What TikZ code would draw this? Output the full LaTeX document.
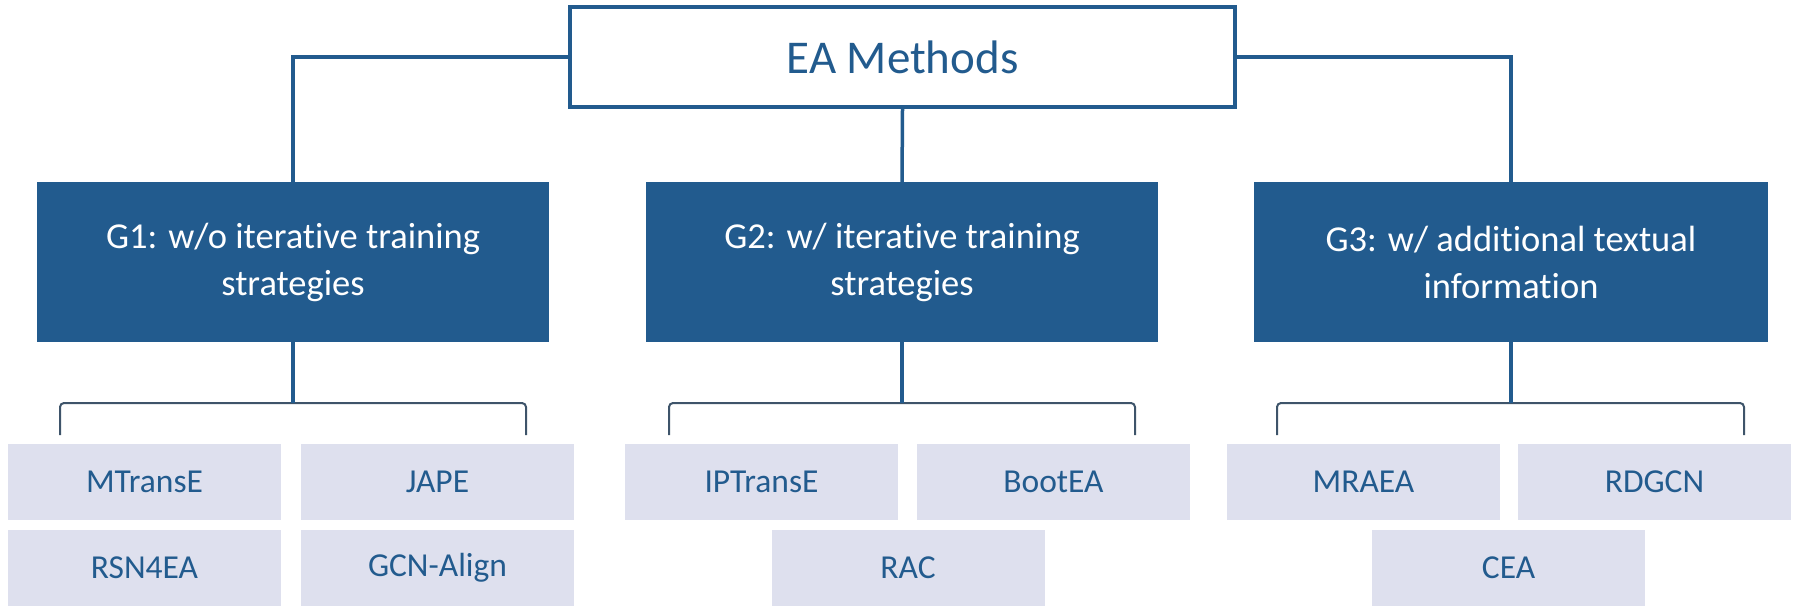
\documentclass[tikz,border=0pt]{standalone}
\usepackage{fontspec}
\setmainfont{Carlito}[Ligatures=NoCommon]
\definecolor{gblue}{RGB}{34,91,142}
\definecolor{lfill}{RGB}{222,224,238}
\definecolor{brk}{RGB}{62,84,106}
\begin{document}
\begin{tikzpicture}[x=1pt,y=-1pt,
  rootbox/.style={draw=gblue,line width=4pt,fill=white,minimum width=665pt,minimum height=100pt,inner sep=0pt,text=gblue,font=\fontsize{47}{56}\selectfont},
  groupbox/.style={fill=gblue,minimum width=512pt,minimum height=160pt,inner sep=0pt,text=white,align=center,font=\fontsize{36.5}{47}\selectfont},
  leafbox/.style={fill=lfill,minimum width=273pt,minimum height=76pt,inner sep=0pt,text=gblue,font=\fontsize{33.5}{40}\selectfont},
  stem/.style={draw=gblue,line width=3.5pt},
  bracket/.style={draw=brk,line width=2pt,rounded corners=4pt}]
\useasboundingbox (0,0) rectangle (1793,606);
% root and groups
\node[rootbox] (ea) at (902.5,57) {EA Methods};
\node[groupbox] (g1) at (293,262) {G1: w/o iterative training\\strategies};
\node[groupbox] (g2) at (902,262) {G2: w/ iterative training\\strategies};
\node[groupbox,minimum width=514pt] (g3) at (1511,262) {G3: w/ additional textual\\information};
% leaves
\node[leafbox] (mtranse) at (144.5,482) {MTransE};
\node[leafbox] (jape) at (437.5,482) {JAPE};
\node[leafbox] (rsn) at (144.5,568) {RSN4EA};
\node[leafbox] (gcn) at (437.5,568) {GCN-Align};
\node[leafbox] (iptranse) at (761.5,482) {IPTransE};
\node[leafbox] (bootea) at (1053.5,482) {BootEA};
\node[leafbox] (rac) at (908,568) {RAC};
\node[leafbox] (mraea) at (1363.5,482) {MRAEA};
\node[leafbox] (rdgcn) at (1654.5,482) {RDGCN};
\node[leafbox] (cea) at (1508.5,568) {CEA};
% bracket coordinates
\coordinate (k1) at (293,403);
\coordinate (k2) at (902,403);
\coordinate (k3) at (1511,403);
\coordinate (b1l) at (60,435); \coordinate (b1r) at (526,435);
\coordinate (b2l) at (669,435); \coordinate (b2r) at (1135,435);
\coordinate (b3l) at (1277,435); \coordinate (b3r) at (1744,435);
% brackets
\draw[bracket] (b1l) |- (k1) -| (b1r);
\draw[bracket] (b2l) |- (k2) -| (b2r);
\draw[bracket] (b3l) |- (k3) -| (b3r);
% stems root -> groups
\draw[stem] (ea.west) -| (g1.north);
\draw[stem] (ea.east) -| (g3.north);
\draw[stem] (ea.south) -- (g2.north);
% stems groups -> brackets
\draw[stem] (g1.south) -- (k1);
\draw[stem] (g2.south) -- (k2);
\draw[stem] (g3.south) -- (k3);
\end{tikzpicture}
\end{document}
